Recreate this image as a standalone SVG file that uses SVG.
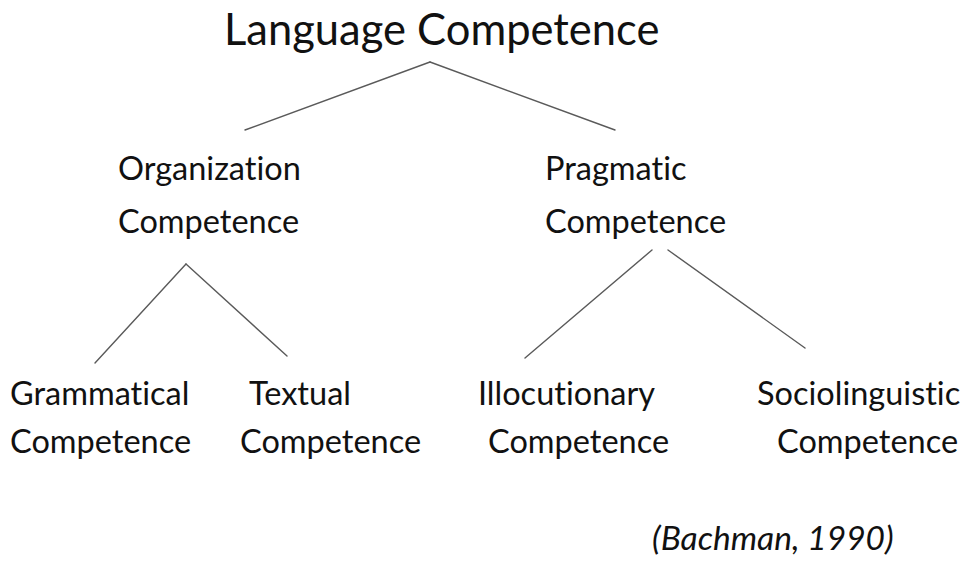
<svg xmlns="http://www.w3.org/2000/svg" width="963" height="562" viewBox="0 0 963 562">
  <style>
    .lbl { font-family: Lato, "Open Sans", "Liberation Sans", sans-serif; font-size: 32.5px; fill: #111; font-variant-ligatures: none; font-feature-settings: "liga" 0, "clig" 0; }
    .title { font-size: 43.5px; }
    .cite { font-style: italic; font-size: 33.5px; }
    .edge { stroke: #5a5a5a; stroke-width: 1.4; fill: none; stroke-linecap: round; }
  </style>
  <rect width="963" height="562" fill="#ffffff"/>

  <g id="connectors">
    <line class="edge" x1="430" y1="62" x2="245" y2="130"/>
    <line class="edge" x1="430" y1="62" x2="615" y2="130"/>
    <line class="edge" x1="186" y1="264" x2="95" y2="363"/>
    <line class="edge" x1="186" y1="264" x2="287" y2="356"/>
    <line class="edge" x1="652" y1="250" x2="525" y2="358"/>
    <line class="edge" x1="668" y1="250" x2="805" y2="348"/>
  </g>

  <g id="node-language">
    <text class="lbl title" x="224" y="45">Language Competence</text>
  </g>
  <g id="node-organization">
    <text class="lbl" x="118" y="180">Organization</text>
    <text class="lbl" x="118" y="233">Competence</text>
  </g>
  <g id="node-pragmatic">
    <text class="lbl" x="545" y="180">Pragmatic</text>
    <text class="lbl" x="545" y="233">Competence</text>
  </g>
  <g id="node-grammatical">
    <text class="lbl" x="10" y="405">Grammatical</text>
    <text class="lbl" x="10" y="453">Competence</text>
  </g>
  <g id="node-textual">
    <text class="lbl" x="249" y="405">Textual</text>
    <text class="lbl" x="240" y="453">Competence</text>
  </g>
  <g id="node-illocutionary">
    <text class="lbl" x="478" y="405">Illocutionary</text>
    <text class="lbl" x="488" y="453">Competence</text>
  </g>
  <g id="node-sociolinguistic">
    <text class="lbl" x="757" y="405">Sociolinguistic</text>
    <text class="lbl" x="777" y="453">Competence</text>
  </g>

  <text class="lbl cite" x="652" y="550">(Bachman, 1990)</text>
</svg>
